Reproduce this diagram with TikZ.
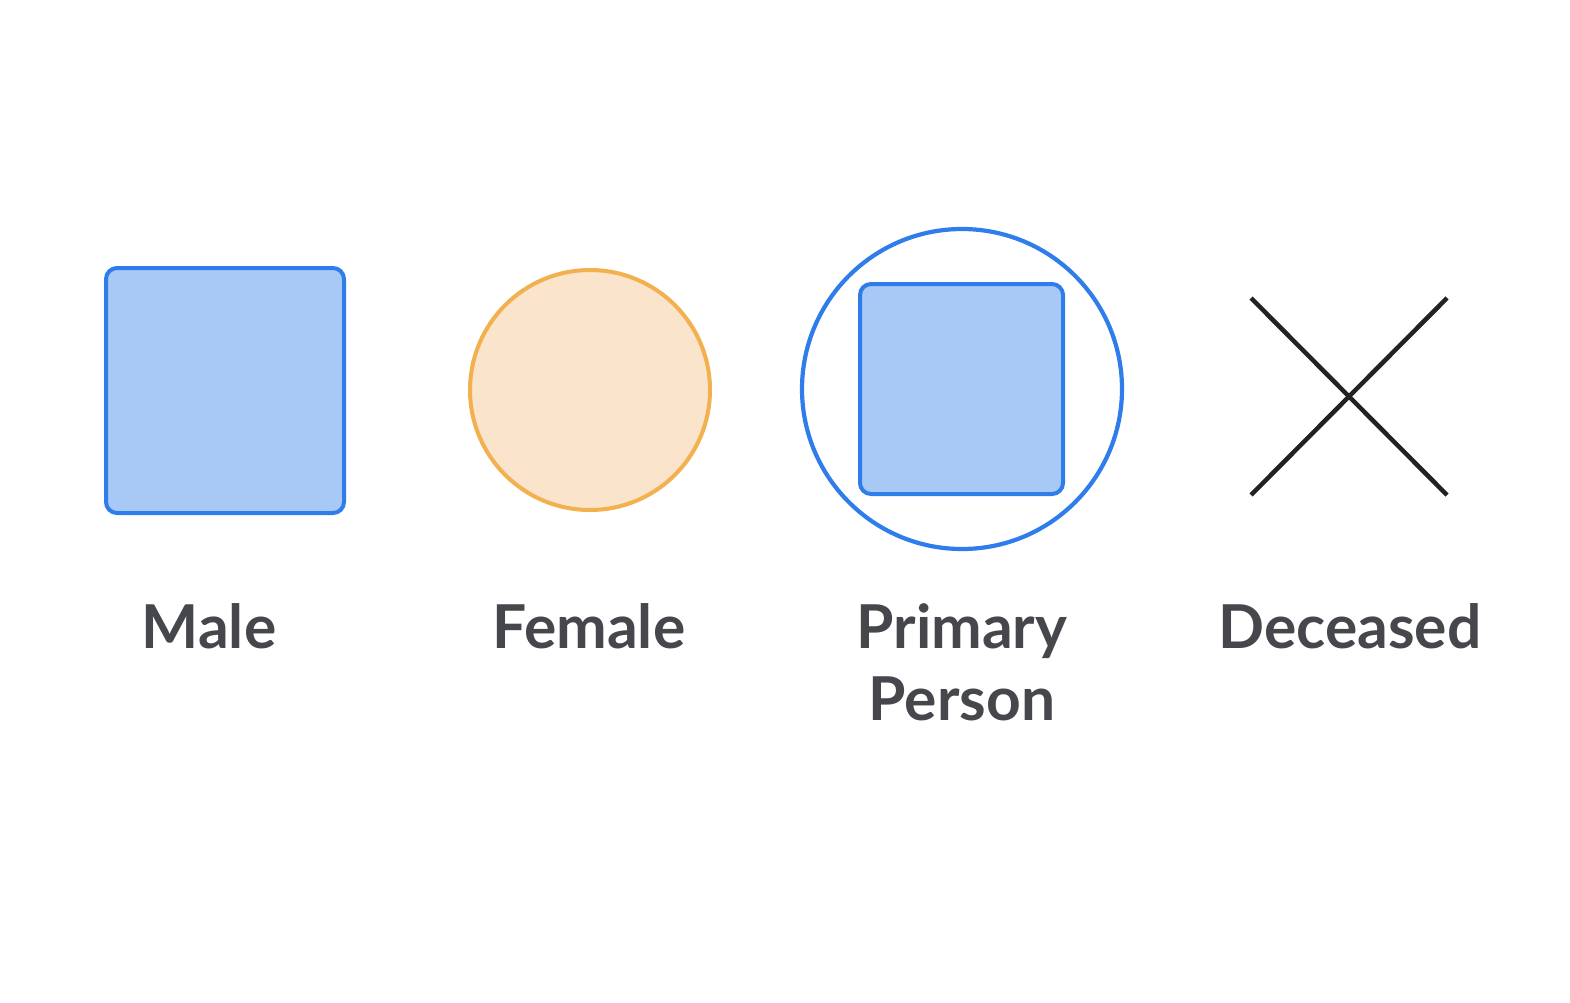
\documentclass[tikz,border=0pt]{standalone}
\usepackage{fontspec}
\setmainfont{Lato}
\definecolor{bluefill}{HTML}{A8C8F6}
\definecolor{bluestroke}{HTML}{2F7DEB}
\definecolor{orfill}{HTML}{FAE4CB}
\definecolor{orstroke}{HTML}{F2B04E}
\definecolor{txt}{HTML}{45474C}
\definecolor{xline}{HTML}{222222}
\begin{document}
\begin{tikzpicture}[x=1pt,y=-1pt,
  malebox/.style={draw=bluestroke,fill=bluefill,line width=4pt,rounded corners=11pt},
  femcirc/.style={draw=orstroke,fill=orfill,line width=4pt},
  primring/.style={draw=bluestroke,line width=4.2pt},
  xstroke/.style={draw=xline,line width=4.5pt},
  lbl/.style={text=txt,font=\fontsize{60.5}{72}\selectfont\bfseries,align=center,anchor=base,inner sep=0pt}]
\fill[fill=white] (0,0) rectangle (1570,1002);
\useasboundingbox (0,0) rectangle (1570,1002);
% Male
\draw[malebox] (106,268) rectangle (344,513);
\node[lbl] (lmale) at (209,648) {Male};
% Female
\draw[femcirc] (590,390) circle (120);
\node[lbl] (lfemale) at (589,648) {Female};
% Primary person
\draw[primring] (962,389) circle (160);
\draw[malebox] (860,284) rectangle (1063,494);
\node[lbl] (lprimary) at (962,648) {Primary};
\node[lbl] (lperson) at (962,720) {Person};
% Deceased
\coordinate (xa) at (1251,298);
\coordinate (xb) at (1447,495);
\coordinate (xc) at (1447,298);
\coordinate (xd) at (1251,495);
\draw[xstroke] (xa) -- (xb);
\draw[xstroke] (xc) -- (xd);
\node[lbl] (ldeceased) at (1350,648) {Deceased};
\end{tikzpicture}
\end{document}
